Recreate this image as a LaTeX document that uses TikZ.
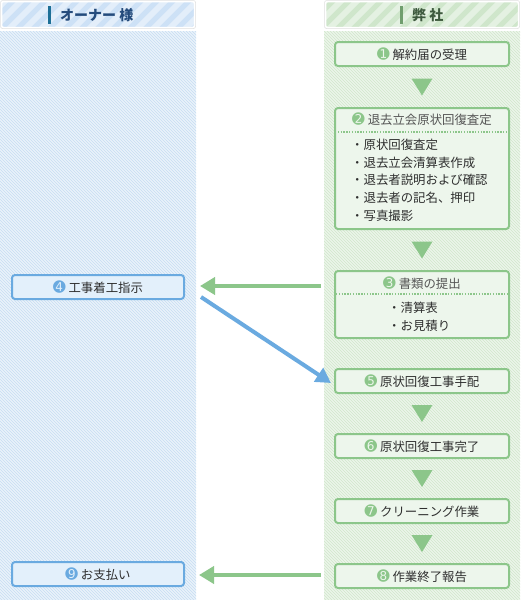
\documentclass[tikz,border=0pt]{standalone}
\usepackage{fontspec}
\setmainfont{Noto Sans CJK JP}
\newfontfamily\numfont{DejaVu Sans}
\usetikzlibrary{arrows.meta,calc}
\definecolor{gline}{HTML}{8CC68A}
\definecolor{gfill}{HTML}{EDF6EC}
\definecolor{bline}{HTML}{6AAAE0}
\definecolor{bfill}{HTML}{E3F0FB}
\definecolor{txt}{HTML}{2E2E2E}
\definecolor{txtl}{HTML}{555555}
\definecolor{lbg}{HTML}{EEF5FC}
\definecolor{lhatch}{HTML}{CCE0F3}
\definecolor{rbg}{HTML}{F0F7EE}
\definecolor{rhatch}{HTML}{D5E9D0}
\definecolor{lhead}{HTML}{CDE1F6}
\definecolor{rhead}{HTML}{CFE6CB}
\definecolor{lhtxt}{HTML}{244B7C}
\definecolor{rhtxt}{HTML}{3E5A3E}
\newcommand{\gnum}[1]{{\numfont\fontsize{15}{15}\selectfont\textcolor{gline}{\char"#1}}\hspace{3pt}}
\newcommand{\bnum}[1]{{\numfont\fontsize{15}{15}\selectfont\textcolor{bline}{\char"#1}}\hspace{3pt}}
\tikzset{
  gbox/.style={draw=gline, line width=2pt, fill=gfill, rounded corners=3pt,
    minimum width=174pt, minimum height=24pt, inner sep=0pt,
    font=\fontsize{12.4}{14}\selectfont, text=txt},
  bbox/.style={draw=bline, line width=2pt, fill=bfill, rounded corners=3pt,
    minimum width=172pt, minimum height=24pt, inner sep=0pt,
    font=\fontsize{12.4}{14}\selectfont, text=txt},
  downtri/.style={fill=gline},
  garrow/.style={draw=gline, line width=4pt, -{Triangle[width=17pt,length=15pt]}},
  barrow/.style={draw=bline, line width=4pt, -{Triangle[width=16pt,length=15pt]}},
  headtxt/.style={font=\bfseries\fontsize{14}{16}\selectfont, anchor=west, inner sep=0pt},
  listtxt/.style={font=\fontsize{12.4}{17.6}\selectfont, text=txt, align=left, anchor=north west, inner sep=0pt}
}
\begin{document}
\begin{tikzpicture}[x=1pt,y=-1pt]
\useasboundingbox (0,0) rectangle (520,600);
\fill[white] (0,0) rectangle (520,600);
% column bodies with fine hatch
\begin{scope}
  \clip (0,31) rectangle (196,600);
  \fill[lbg] (0,31) rectangle (196,600);
  \foreach \i in {-600,-597,...,196} \draw[lhatch, line width=0.9pt] (\i,31) -- ++(600,600);
\end{scope}
\begin{scope}
  \clip (324,31) rectangle (520,600);
  \fill[rbg] (324,31) rectangle (520,600);
  \foreach \i in {-276,-273,...,520} \draw[rhatch, line width=0.9pt] (\i,31) -- ++(600,600);
\end{scope}
% headers
\begin{scope}
  \clip[rounded corners=2pt] (1,1) rectangle (195,28);
  \fill[lhead] (1,1) rectangle (195,28);
  \foreach \i in {-40,-24,...,200} \draw[white, opacity=0.45, line width=6pt] (\i,30) -- ++(30,-30);
\end{scope}
\draw[white, line width=1.5pt, rounded corners=2pt] (1.5,1.5) rectangle (194.5,27.5);
\draw[black!12, line width=0.5pt, rounded corners=2pt] (0.5,0.5) rectangle (195.5,28.5);
\begin{scope}
  \clip[rounded corners=2pt] (325,1) rectangle (519,28);
  \fill[rhead] (325,1) rectangle (519,28);
  \foreach \i in {280,296,...,530} \draw[white, opacity=0.45, line width=6pt] (\i,30) -- ++(30,-30);
\end{scope}
\draw[white, line width=1.5pt, rounded corners=2pt] (325.5,1.5) rectangle (518.5,27.5);
\draw[black!12, line width=0.5pt, rounded corners=2pt] (324.5,0.5) rectangle (519.5,28.5);
\fill[lhtxt!80!cyan] (48,6) rectangle (51,24);
\node[headtxt, text=lhtxt] (hl) at (60,15) {オーナー 様};
\fill[gline!80!black] (400,6) rectangle (403,24);
\node[headtxt, text=rhtxt] (hr) at (412,15) {弊 社};
% right column steps
\node[gbox] (b1) at (422,54) {\gnum{278A}解約届の受理};
\node[gbox, minimum height=121pt] (b2) at (422,168.5) {};
\node[font=\fontsize{12.4}{14}\selectfont, text=txtl, inner sep=0pt] (t2) at (422,119) {\gnum{278B}退去立会原状回復査定};
\draw[gline, line width=1.3pt, dash pattern=on 1.3pt off 1.5pt] ($(b2.west)+(1,-36.5)$) -- ($(b2.east)+(-1,-36.5)$);
\node[listtxt] (l2) at (351,139) {・原状回復査定\\・退去立会清算表作成\\・退去者説明および確認\\・退去者の記名、押印\\・写真撮影};
\node[gbox, minimum height=67pt] (b3) at (422,304.5) {};
\node[font=\fontsize{12.4}{14}\selectfont, text=txtl, inner sep=0pt] (t3) at (422,283) {\gnum{278C}書類の提出};
\draw[gline, line width=1.3pt, dash pattern=on 1.3pt off 1.5pt] (336,294) -- (508,294);
\node[listtxt] (l3) at (388,302) {・清算表\\・お見積り};
\node[gbox] (b5) at (422,381) {\gnum{278E}原状回復工事手配};
\node[gbox] (b6) at (422,446) {\gnum{278F}原状回復工事完了};
\node[gbox] (b7) at (422,511) {\gnum{2790}クリーニング作業};
\node[gbox] (b8) at (422,576) {\gnum{2791}作業終了報告};
% left column
\node[bbox] (b4) at (98,287) {\bnum{278D}工事着工指示};
\node[bbox] (b9) at (98,574) {\bnum{2792}お支払い};
% down triangles
\foreach \a/\b in {b1/b2,b2/b3,b5/b6,b6/b7,b7/b8} {
  \coordinate (m) at ($(\a.south)!0.5!(\b.north)$);
  \fill[downtri] ($(m)+(-10.5,-8.5)$) -- ($(m)+(10.5,-8.5)$) -- ($(m)+(0,8.5)$) -- cycle;
}
% arrows
\coordinate (g1s) at (321,286);
\coordinate (g1e) at (200,286);
\draw[garrow] (g1s) -- (g1e);
\coordinate (bs) at (201,297);
\coordinate (be) at (331,383);
\draw[barrow] (bs) -- (be);
\coordinate (g2s) at (321,575);
\coordinate (g2e) at (199,575);
\draw[garrow] (g2s) -- (g2e);
\end{tikzpicture}
\end{document}
